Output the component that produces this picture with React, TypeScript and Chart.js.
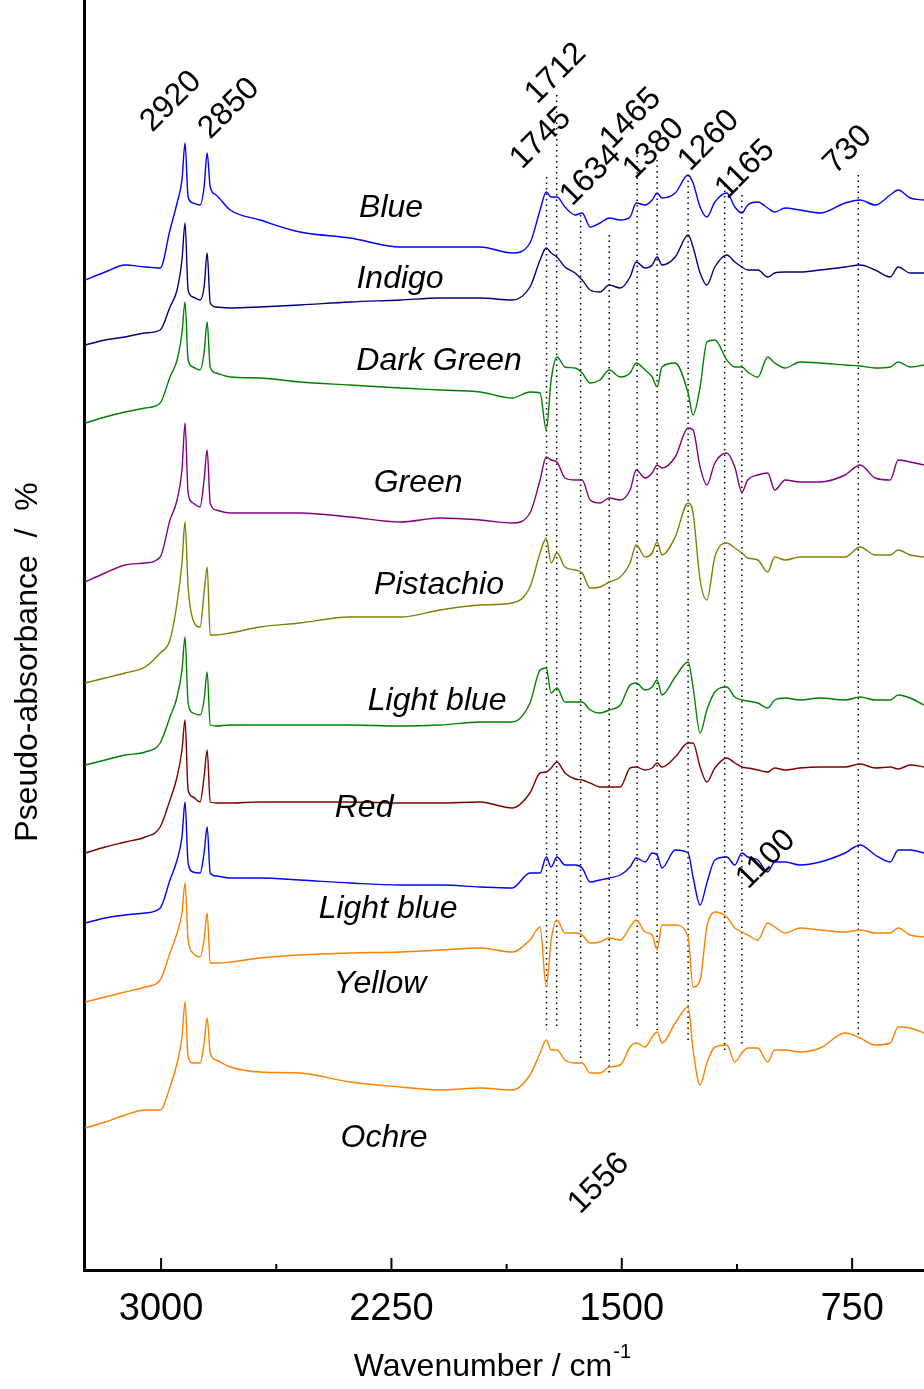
import React, { useEffect, useRef } from "react";
import { Chart, registerables } from "chart.js";
Chart.register(...registerables);

// wavenumbers (cm-1), shared by all spectra
const WN = [3247,3182,3117,3052,3003,2971,2948,2932,2922,2912,2896,2873,2860,2850,2840,2821,2775,2678,2548,2385,2221,2092,1961,1857,1799,
  1766,1746,1730,1711,1685,1652,1629,1603,1571,1541,1505,1473,1453,1424,1401,1385,1369,1326,1284,1268,1245,1223,1197,1158,1132,1109,1090,1057,1025,1002,968,920,854,773,724,675,626,600,561,516];

// read offsets from the top of the frame (larger = lower absorbance), per spectrum
const BLUE = [280,272,265,267,268,230,203,180,143,197,203,205,187,153,187,195,210,220,232,238,247,247,247,253,243,
  210,192,197,197,207,215,213,227,223,218,220,217,203,205,200,193,198,193,175,183,207,217,202,193,207,213,205,202,208,212,208,210,213,203,200,205,195,190,198,200];
const INDIGO = [345,340,337,333,330,307,290,260,223,290,297,300,287,253,303,307,308,307,305,302,300,298,298,300,287,
  260,248,253,257,267,273,280,290,292,285,288,277,262,268,265,257,265,257,235,247,273,285,267,255,262,267,270,270,277,273,272,272,270,267,265,270,277,267,273,273];
const DARK_GREEN = [423,417,412,408,403,377,360,333,302,360,367,370,353,322,367,373,377,378,382,385,388,390,392,398,392,
  393,430,380,357,367,368,373,383,380,370,377,373,363,370,377,387,367,363,393,415,387,342,340,360,367,367,372,377,357,363,368,362,363,365,366,368,367,362,367,365];
const GREEN = [582,573,565,563,557,520,500,470,423,493,503,507,480,450,503,510,513,513,513,517,522,518,520,523,513,
  480,457,460,462,478,480,480,500,503,498,500,490,470,478,473,465,468,457,428,430,467,485,463,453,467,492,480,475,473,490,480,482,482,475,465,478,480,460,462,465];
const PISTACHIO = [683,678,673,667,653,640,603,563,522,587,620,627,593,567,635,635,633,627,623,617,617,610,605,603,587,
  553,538,563,553,567,570,573,588,587,582,577,563,545,557,553,542,555,537,503,513,580,600,557,543,548,553,558,560,572,557,560,557,557,557,547,555,555,550,555,557];
const LIGHT_BLUE_1 = [765,760,755,752,743,717,697,670,637,703,713,715,700,672,725,726,725,725,725,725,726,725,722,722,703,
  670,668,693,688,702,702,702,710,713,710,705,685,683,690,687,680,695,677,662,687,733,710,692,687,697,700,701,703,708,700,698,700,698,700,697,700,700,695,698,705];
const RED = [853,847,842,837,827,800,777,750,720,790,797,802,777,750,802,803,803,802,802,802,803,803,802,808,793,
  773,772,768,762,773,779,780,783,787,787,787,768,767,770,768,763,767,757,743,743,767,782,768,758,763,767,768,770,772,768,770,768,767,767,764,768,767,769,765,767];
const LIGHT_BLUE_2 = [923,918,915,913,908,880,860,837,802,863,872,873,853,827,873,876,878,878,880,883,885,885,887,888,873,
  873,857,867,857,865,865,868,882,880,878,875,867,858,862,853,855,868,850,853,877,905,883,860,857,865,853,857,860,872,862,862,865,862,853,845,855,862,850,850,853];
const YELLOW = [1002,997,992,987,980,953,933,913,883,940,953,957,940,913,963,963,962,958,955,953,952,950,948,952,940,
  927,987,940,920,933,933,935,943,942,938,940,927,920,932,935,950,925,925,937,987,980,927,912,917,928,932,935,940,923,927,933,928,930,932,930,933,933,928,935,937];
const OCHRE = [1128,1122,1115,1110,1110,1087,1063,1037,1002,1057,1063,1063,1043,1018,1053,1060,1067,1072,1073,1082,1087,1090,1088,1090,1075,
  1053,1040,1050,1050,1060,1063,1063,1073,1073,1067,1065,1047,1043,1047,1037,1032,1043,1023,1007,1050,1085,1063,1047,1045,1062,1053,1048,1048,1062,1050,1050,1052,1048,1033,1038,1045,1043,1027,1028,1033];

const FRAME_TOP = 1270;
const SERIES_NAMES = ["Blue","Indigo","Dark Green","Green","Pistachio","Light blue","Red","Light blue","Yellow","Ochre"];
const SERIES_DATA = [BLUE,INDIGO,DARK_GREEN,GREEN,PISTACHIO,LIGHT_BLUE_1,RED,LIGHT_BLUE_2,YELLOW,OCHRE];
const SERIES_COLORS = ["#0000ff","#000080","#008000","#800080","#808000","#008000","#800000","#0000ff","#ff8000","#ff8000"];
const NAME_POS = [[2251,1062],[2222,991],[2095,909],[2163,787],[2095,685],[2101,569],[2339,462],[2261,361],[2287,286],[2274,132]];

const MARK_WN = [1745,1712,1634,1541,1450,1385,1284,1165,1109,730];
const MARK_TOP = [1093,1175,1055,1035,1120,1110,1095,1085,1075,1095];
const MARK_BOTTOM = [240,240,210,195,240,240,230,220,225,235];

const PEAK_TEXT = ["2920","2850","1712","1745","1634","1465","1380","1260","1165","730","1100","1556"];
const PEAK_POS = [[3029,1137],[2840,1130],[1776,1165],[1825,1100],[1662,1063],[1532,1120],[1457,1090],[1278,1098],[1157,1070],[805,1095],[1089,380],[1636,55]];

const X_TICKS = [3000,2625,2250,1875,1500,1125,750];

export default function App() {
  const ref = useRef<HTMLCanvasElement>(null);
  useEffect(() => {
    const datasets: any[] = SERIES_DATA.map((arr, i) => ({
      label: SERIES_NAMES[i],
      data: arr.map((v, j) => ({ x: WN[j], y: FRAME_TOP - v })),
      borderColor: SERIES_COLORS[i],
      borderWidth: 1.4,
      pointRadius: 0,
      cubicInterpolationMode: "monotone",
    }));
    MARK_WN.forEach((w, i) => {
      datasets.push({
        data: [{ x: w, y: MARK_TOP[i] }, { x: w, y: MARK_BOTTOM[i] }],
        borderColor: "#000",
        borderWidth: 1.5,
        borderDash: [1.5, 4],
        pointRadius: 0,
      });
    });
    const deco = {
      id: "deco",
      afterDraw(chart: any) {
        const ctx = chart.ctx;
        const xs = chart.scales.x, ys = chart.scales.y;
        const ca = chart.chartArea;
        ctx.save();
        ctx.strokeStyle = "#000";
        ctx.lineWidth = 2;
        X_TICKS.forEach((t) => {
          const px = xs.getPixelForValue(t);
          const len = t % 750 === 0 ? 12 : 6;
          ctx.beginPath();
          ctx.moveTo(px, ca.bottom);
          ctx.lineTo(px, ca.bottom - len);
          ctx.stroke();
        });
        ctx.fillStyle = "#000";
        ctx.font = "38px 'Liberation Sans', Arial, sans-serif";
        ctx.textAlign = "center";
        ctx.textBaseline = "middle";
        X_TICKS.filter((t) => t % 750 === 0).forEach((t) => {
          ctx.fillText(String(t), xs.getPixelForValue(t), 1310);
        });
        ctx.font = "32px 'Liberation Sans', Arial, sans-serif";
        ctx.textAlign = "left";
        const t1 = "Wavenumber / cm";
        const w1 = ctx.measureText(t1).width;
        const x0 = 492 - (w1 + 18) / 2;
        ctx.fillText(t1, x0, 1367);
        ctx.font = "20px 'Liberation Sans', Arial, sans-serif";
        ctx.fillText("-1", x0 + w1 + 1, 1352);
        ctx.save();
        ctx.translate(28, 662);
        ctx.rotate(-Math.PI / 2);
        ctx.textAlign = "center";
        ctx.font = "32px 'Liberation Sans', Arial, sans-serif";
        ctx.fillText("Pseudo-absorbance  /  %", 0, 0);
        ctx.restore();
        ctx.font = "italic 32px 'Liberation Sans', Arial, sans-serif";
        ctx.textAlign = "center";
        NAME_POS.forEach((p, i) => {
          ctx.fillText(SERIES_NAMES[i], xs.getPixelForValue(p[0]), ys.getPixelForValue(p[1]));
        });
        ctx.font = "32px 'Liberation Sans', Arial, sans-serif";
        ctx.textAlign = "left";
        ctx.textBaseline = "alphabetic";
        PEAK_POS.forEach((p, i) => {
          ctx.save();
          ctx.translate(xs.getPixelForValue(p[0]), ys.getPixelForValue(p[1]));
          ctx.rotate(-Math.PI / 4);
          ctx.fillText(PEAK_TEXT[i], 0, 0);
          ctx.restore();
        });
        ctx.restore();
      },
    };
    const chart = new Chart(ref.current!, {
      type: "line",
      data: { datasets },
      plugins: [deco],
      options: {
        animation: false,
        responsive: false,
        parsing: false as any,
        layout: { padding: 0 },
        plugins: { legend: { display: false }, tooltip: { enabled: false } },
        scales: {
          x: {
            type: "linear",
            reverse: true,
            min: 516,
            max: 3251,
            grid: { display: false, drawTicks: false },
            border: { display: true, width: 3, color: "#000" },
            ticks: { display: false },
            afterFit: (s: any) => { s.height = 119; },
          },
          y: {
            type: "linear",
            min: 0,
            max: 1270,
            grid: { display: false, drawTicks: false },
            border: { display: true, width: 3, color: "#000" },
            ticks: { display: false },
            afterFit: (s: any) => { s.width = 84; },
          },
        },
      },
    });
    return () => chart.destroy();
  }, []);
  return (
    <div style={{ position: "fixed", left: 0, top: 0, width: 924, height: 1389, background: "#fff" }}>
      <canvas ref={ref} width={924} height={1389} style={{ width: 924, height: 1389 }} />
    </div>
  );
}
